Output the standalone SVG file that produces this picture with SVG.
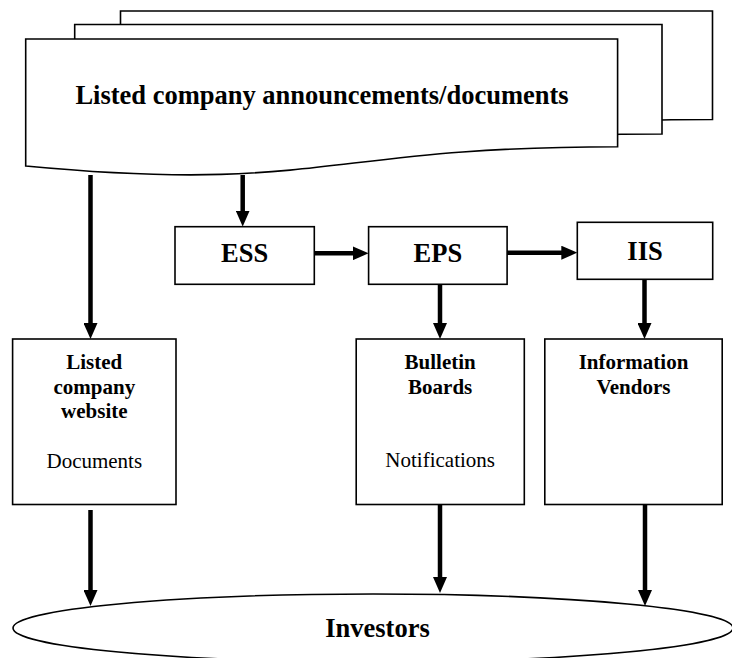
<svg xmlns="http://www.w3.org/2000/svg" width="732" height="658" viewBox="0 0 732 658">
  <defs>
    <style>
      .shape { fill: #ffffff; stroke: #000000; stroke-width: 1.6; }
      .conn { stroke: #000000; stroke-width: 4.5; fill: none; marker-end: url(#arrow); }
      .big { font-family: "Liberation Serif", "Times New Roman", serif; font-weight: bold; font-size: 26.5px; text-anchor: middle; fill: #000; }
      .lbl { font-family: "Liberation Serif", "Times New Roman", serif; font-weight: bold; font-size: 21px; text-anchor: middle; fill: #000; }
      .sub { font-family: "Liberation Serif", "Times New Roman", serif; font-size: 21px; text-anchor: middle; fill: #000; }
    </style>
    <marker id="arrow" markerUnits="userSpaceOnUse" markerWidth="16" markerHeight="14" refX="8" refY="7" orient="auto">
      <path d="M0,0 L16,7 L0,14 Z" fill="#000"/>
    </marker>
  </defs>

  <g id="documents">
    <path class="shape" d="M120.5,11 H712.5 V119.5 C416.5,119.5 416.5,166.5 120.5,138.5 Z"/>
    <path class="shape" d="M74.7,24.5 H662 V134 C368,134 368,181 74.7,153 Z"/>
    <path class="shape" d="M25.7,39 H617.6 V146.7 C321.6,146.7 321.6,194 25.7,166 Z"/>
    <text class="big" x="322" y="104">Listed company announcements/documents</text>
  </g>

  <g id="ess">
    <rect class="shape" x="175" y="226.7" width="139.3" height="57.6"/>
    <text class="big" x="244.6" y="261.7">ESS</text>
  </g>
  <g id="eps">
    <rect class="shape" x="368.6" y="226.7" width="138.5" height="57.6"/>
    <text class="big" x="437.9" y="261.7">EPS</text>
  </g>
  <g id="iis">
    <rect class="shape" x="577.3" y="222.3" width="135.4" height="57"/>
    <text class="big" x="645" y="260">IIS</text>
  </g>

  <g id="website">
    <rect class="shape" x="12.6" y="339" width="163.4" height="165.5"/>
    <text class="lbl" x="94.3" y="369.3">Listed</text>
    <text class="lbl" x="94.3" y="394">company</text>
    <text class="lbl" x="94.3" y="418">website</text>
    <text class="sub" x="94.3" y="467.5">Documents</text>
  </g>
  <g id="bulletin">
    <rect class="shape" x="356.2" y="339" width="168.1" height="165.5"/>
    <text class="lbl" x="440.2" y="369.3">Bulletin</text>
    <text class="lbl" x="440.2" y="394">Boards</text>
    <text class="sub" x="440.2" y="466.7">Notifications</text>
  </g>
  <g id="vendors">
    <rect class="shape" x="544.8" y="339" width="177.4" height="165.5"/>
    <text class="lbl" x="633.5" y="369.3">Information</text>
    <text class="lbl" x="633.5" y="394">Vendors</text>
  </g>

  <g id="investors">
    <ellipse class="shape" cx="373" cy="628" rx="360" ry="34"/>
    <text class="big" x="377.5" y="637">Investors</text>
  </g>

  <g id="connectors">
    <line class="conn" x1="90.5" y1="175" x2="90.5" y2="331"/>
    <line class="conn" x1="242.7" y1="175" x2="242.7" y2="218.5"/>
    <line class="conn" x1="314.3" y1="253.3" x2="360.6" y2="253.3"/>
    <line class="conn" x1="507.1" y1="252.7" x2="569.3" y2="252.7"/>
    <line class="conn" x1="440" y1="284.3" x2="440" y2="331"/>
    <line class="conn" x1="644.5" y1="279.3" x2="644.5" y2="331"/>
    <line class="conn" x1="90.5" y1="510" x2="90.5" y2="598"/>
    <line class="conn" x1="440" y1="505" x2="440" y2="585"/>
    <line class="conn" x1="645" y1="505" x2="645" y2="598"/>
  </g>
</svg>
